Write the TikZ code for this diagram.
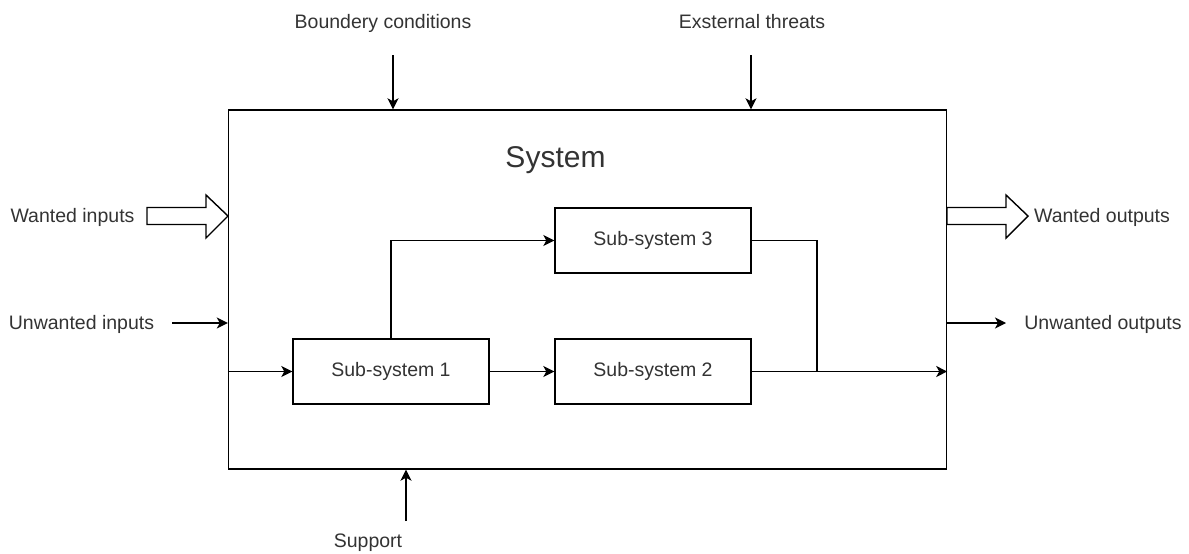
\documentclass[tikz,border=0pt]{standalone}
\usepackage{fontspec}
\setmainfont{Liberation Sans}
\usetikzlibrary{arrows.meta}
\definecolor{labelgray}{RGB}{51,51,51}
\tikzset{
  line/.style={line width=1.4pt, draw=black},
  flow/.style={line, -{Stealth[length=11pt,width=11pt,inset=3pt]}},
  subbox/.style={line, rectangle, minimum width=196pt, minimum height=65pt,
                 inner sep=0pt, font=\fontsize{19.5}{23}\selectfont, text=labelgray},
  lbl/.style={anchor=base, inner sep=0pt, font=\fontsize{19.5}{23}\selectfont, text=labelgray},
  fatarrow/.style={line, fill=white, line join=miter}
}
\begin{document}
\begin{tikzpicture}[x=1pt,y=-1pt]
  \useasboundingbox (0,0) rectangle (1189,554);

  % system boundary
  \node[line, rectangle, minimum width=718pt, minimum height=359pt, inner sep=0pt]
    (sys) at (587.5,289.5) {};
  \node[anchor=base, inner sep=0pt, font=\fontsize{30}{36}\selectfont, text=labelgray]
    (systitle) at (555.5,167) {System};

  % sub-systems
  \node[subbox] (ss1) at (391,371.5) {Sub-system 1};
  \node[subbox] (ss2) at (653,371.5) {Sub-system 2};
  \node[subbox] (ss3) at (653,240.5) {Sub-system 3};

  % internal flows
  \draw[flow] (sys.west |- ss1.west) -- (ss1.west);
  \draw[flow] (ss1.east) -- (ss2.west);
  \draw[flow] (ss1.north) |- (ss3.west);
  \coordinate (join) at (817,371.5);
  \draw[line] (ss3.east) -| (join);
  \draw[flow] (ss2.east) -- (sys.east |- ss2.east);

  % environment labels
  \node[lbl] (win)  at (72.5,222)  {Wanted inputs};
  \node[lbl] (uin)  at (81.5,329)  {Unwanted inputs};
  \node[lbl] (wout) at (1102,222)  {Wanted outputs};
  \node[lbl] (uout) at (1103,329)  {Unwanted outputs};
  \node[lbl] (bnd)  at (383,28)    {Boundery conditions};
  \node[lbl] (thr)  at (752,28)    {Exsternal threats};
  \node[lbl] (sup)  at (368,547)   {Support};

  % wanted inputs / outputs (hollow block arrows)
  \draw[fatarrow] (147,207.5) -- (206,207.5) -- (206,195) -- (228,216)
                  -- (206,238) -- (206,224.5) -- (147,224.5) -- cycle;
  \draw[fatarrow] (947,207.5) -- (1006,207.5) -- (1006,195) -- (1028,216)
                  -- (1006,238) -- (1006,224.5) -- (947,224.5) -- cycle;

  % unwanted inputs / outputs
  \coordinate (uinstart) at (172,323);
  \draw[flow] (uinstart) -- (uinstart -| sys.west);
  \coordinate (uoutend) at (1006,323);
  \draw[flow] (uoutend -| sys.east) -- (uoutend);

  % boundary conditions, threats and support
  \coordinate (bndstart) at (393,55);
  \draw[flow] (bndstart) -- (bndstart |- sys.north);
  \coordinate (thrstart) at (751,55);
  \draw[flow] (thrstart) -- (thrstart |- sys.north);
  \coordinate (supstart) at (406,521);
  \draw[flow] (supstart) -- (supstart |- sys.south);
\end{tikzpicture}
\end{document}
